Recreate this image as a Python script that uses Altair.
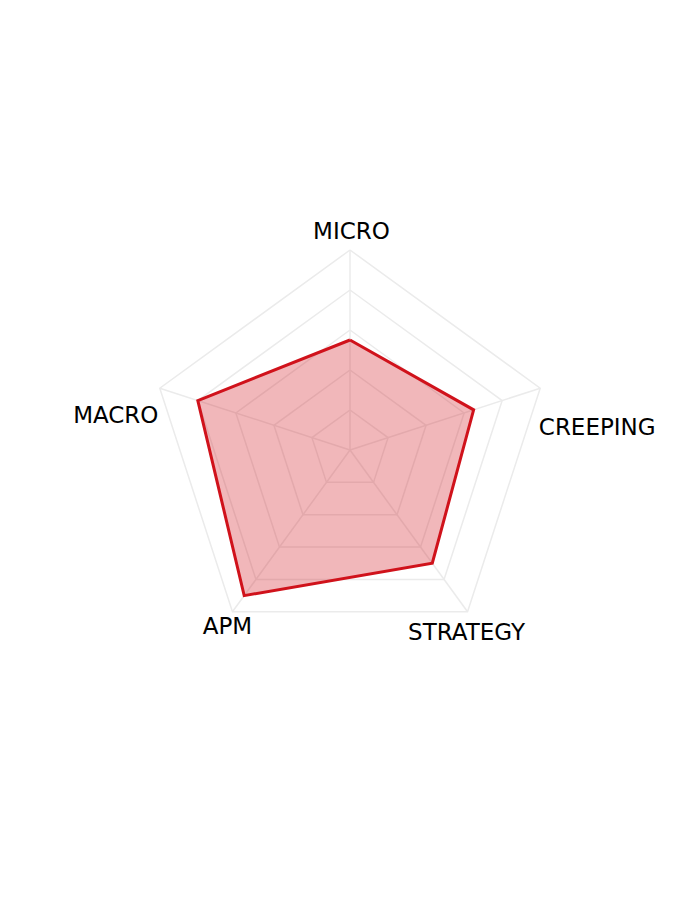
import math
import altair as alt
import pandas as pd

# ---- data ----
axes = ["MICRO", "CREEPING", "STRATEGY", "APM", "MACRO"]
values = [55, 65, 70, 90, 80]
max_value = 100
grid_levels = [20, 40, 60, 80, 100]

# label placement (pixel shift from outer vertex: text centre / baseline)
label_shift_px = [(1.5, -11), (57, 47), (-1, 28), (-5, 22), (-44, 35)]

PX_PER_UNIT = 2.0
n = len(axes)
angles = [2 * math.pi * i / n for i in range(n)]

def pt(r, a):
    return r * math.sin(a), r * math.cos(a)

# grid pentagons
grid_rows = []
for lv in grid_levels:
    for k in range(n + 1):
        x, y = pt(lv, angles[k % n])
        grid_rows.append({"level": lv, "order": k, "x": x, "y": y})
grid_df = pd.DataFrame(grid_rows)

# spokes
spoke_rows = []
for i, a in enumerate(angles):
    x, y = pt(max_value, a)
    spoke_rows.append({"axis": axes[i], "order": 0, "x": 0.0, "y": 0.0})
    spoke_rows.append({"axis": axes[i], "order": 1, "x": x, "y": y})
spoke_df = pd.DataFrame(spoke_rows)

# data polygon
data_rows = []
for k in range(n + 1):
    i = k % n
    x, y = pt(values[i], angles[i])
    data_rows.append({"axis": axes[i], "value": values[i], "order": k, "x": x, "y": y})
data_df = pd.DataFrame(data_rows)

# labels
label_rows = []
for i, a in enumerate(angles):
    x, y = pt(max_value, a)
    sx, sy = label_shift_px[i]
    label_rows.append({"axis": axes[i], "x": x + sx / PX_PER_UNIT, "y": y - sy / PX_PER_UNIT})
label_df = pd.DataFrame(label_rows)

W, H = 684, 884
xs = alt.Scale(domain=[-W / 2 / PX_PER_UNIT, W / 2 / PX_PER_UNIT], nice=False, zero=False)
ys = alt.Scale(domain=[-H / 2 / PX_PER_UNIT, H / 2 / PX_PER_UNIT], nice=False, zero=False)
X = lambda: alt.X("x:Q", scale=xs, axis=None)
Y = lambda: alt.Y("y:Q", scale=ys, axis=None)

grid = alt.Chart(grid_df).mark_line(color="#ebebeb", strokeWidth=1.5).encode(
    x=X(), y=Y(), detail="level:N", order="order:Q"
)
spokes = alt.Chart(spoke_df).mark_line(color="#ebebeb", strokeWidth=1.5).encode(
    x=X(), y=Y(), detail="axis:N", order="order:Q"
)
poly = alt.Chart(data_df).mark_line(
    color="#d0121b", strokeWidth=3, fill="#d0121b", fillOpacity=0.3, strokeJoin="miter"
).encode(x=X(), y=Y(), order="order:Q")
labels = alt.Chart(label_df).mark_text(
    font="DejaVu Sans", fontSize=23, color="#000000", align="center", baseline="alphabetic"
).encode(x=X(), y=Y(), text="axis:N")

chart = alt.layer(grid, spokes, poly, labels).properties(
    width=W, height=H, padding=0
).configure_view(stroke=None)

chart.save("out.html", embed_options={"renderer": "svg", "actions": False})
